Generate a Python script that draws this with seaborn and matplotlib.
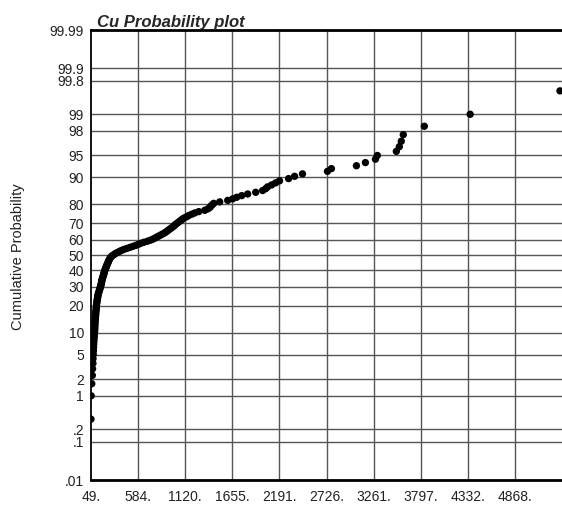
import numpy as np
import pandas as pd
import matplotlib
matplotlib.use("Agg")
import matplotlib.pyplot as plt
import seaborn as sns
from statistics import NormalDist

# Cu values (sorted)
cu_values = [
    49, 51, 58, 64, 67, 71, 72, 75, 77, 78,
    80, 82, 84, 86, 88, 90, 92, 92, 94, 95,
    96, 98, 99, 101, 102, 104, 105, 107, 109, 110,
    111, 113, 115, 118, 120, 123, 125, 127, 130, 134,
    139, 142, 147, 151, 154, 159, 162, 165, 168, 170,
    172, 176, 179, 183, 187, 191, 194, 198, 201, 204,
    209, 213, 218, 222, 227, 232, 237, 242, 246, 251,
    257, 263, 272, 281, 293, 312, 327, 350, 372, 395,
    423, 457, 491, 525, 559, 588, 616, 650, 690, 724,
    752, 775, 798, 820, 843, 866, 888, 905, 922, 939,
    956, 973, 990, 1002, 1019, 1036, 1053, 1070, 1087, 1109,
    1138, 1161, 1195, 1229, 1274, 1342, 1376, 1399, 1410, 1427,
    1444, 1512, 1603, 1660, 1705, 1762, 1830, 1921, 2000, 2034,
    2057, 2102, 2147, 2192, 2295, 2363, 2453, 2737, 2782, 3066,
    3168, 3282, 3304, 3520, 3554, 3576, 3599, 3838, 4359, 5380,
]

prob_ticks = [0.01, 0.1, 0.2, 1, 2, 5, 10, 20, 30, 40, 50, 60, 70, 80, 90,
              95, 98, 99, 99.8, 99.9, 99.99]
prob_labels = [".01", ".1", ".2", "1", "2", "5", "10", "20", "30", "40", "50",
               "60", "70", "80", "90", "95", "98", "99", "99.8", "99.9", "99.99"]
x_ticks = [49, 584.4, 1119.8, 1655.2, 2190.6, 2726.0, 3261.4, 3796.8, 4332.2, 4867.6]
x_labels = ["49.", "584.", "1120.", "1655.", "2191.", "2726.", "3261.", "3797.",
            "4332.", "4868."]
x_limits = (49, 5403)

nd = NormalDist()
n = len(cu_values)
cum_prob = [(i + 0.5) / n for i in range(n)]
df = pd.DataFrame({"Cu": cu_values, "z": [nd.inv_cdf(p) for p in cum_prob]})

sns.set_style("white")
plt.rcParams["font.family"] = ["Liberation Sans", "DejaVu Sans"]

fig = plt.figure(figsize=(5.62, 5.08), dpi=100)
ax = fig.add_axes([91 / 562, 1 - 480 / 508, 1 - 91 / 562, (480 - 30) / 508])

ytick_z = [nd.inv_cdf(p / 100) for p in prob_ticks]
ax.set_ylim(nd.inv_cdf(0.0001), nd.inv_cdf(0.9999))
ax.set_xlim(*x_limits)
ax.set_yticks(ytick_z)
ax.set_yticklabels(prob_labels)
ax.set_xticks(x_ticks)
ax.set_xticklabels(x_labels)

for z in ytick_z:
    ax.axhline(z, color="#555555", lw=1.0, zorder=1)
for xv in x_ticks[1:]:
    ax.axvline(xv, color="#555555", lw=1.0, zorder=1)

sns.scatterplot(data=df, x="Cu", y="z", color="black", s=28, edgecolor="none",
                ax=ax, zorder=3, legend=False)

ax.tick_params(axis="both", length=0, labelsize=10, colors="#222222")
ax.tick_params(axis="x", pad=7)
ax.tick_params(axis="y", pad=5)
ax.set_xlabel("")
ax.set_ylabel("")

for side in ["top", "bottom"]:
    ax.spines[side].set_linewidth(2.0)
    ax.spines[side].set_color("black")
ax.spines["left"].set_linewidth(1.3)
ax.spines["left"].set_color("black")
ax.spines["right"].set_visible(False)

fig.text(97 / 562, 1 - 27 / 508, "Cu Probability plot", fontsize=12,
         fontweight="bold", fontstyle="italic", ha="left", va="baseline")
fig.text(18 / 562, 1 - 257 / 508, "Cumulative Probability", fontsize=10.5,
         rotation=90, ha="center", va="center", color="#222222")

fig.savefig("out.png", dpi=100)
